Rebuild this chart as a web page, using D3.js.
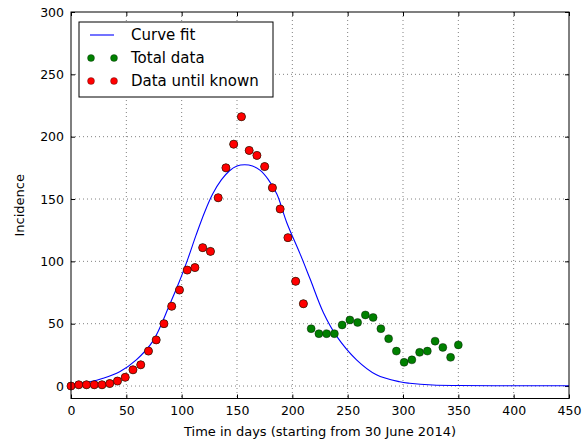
<!DOCTYPE html>
<html>
<head>
<meta charset="utf-8">
<script src="https://cdn.jsdelivr.net/npm/d3@7"></script>
<style>
  body { margin: 0; background: #fff; }
  #svg-container { width: 587px; height: 444px; }
  text { font-family: "DejaVu Sans", sans-serif; fill: #000; }
</style>
</head>
<body>
<div id="svg-container"></div>
<script>
// weekly observations (days since 30 June 2014)
var knownDays = [0, 7, 14, 21, 28, 35, 42, 49, 56, 63, 70, 77, 84, 91, 98, 105, 112, 119, 126, 133,
                 140, 147, 154, 161, 168, 175, 182, 189, 196, 203, 210];
var knownCases = [0, 1, 1, 1, 1, 2, 4, 7, 13, 17, 28, 37, 50, 64, 77, 93, 95, 111, 108, 151,
                  175, 194, 216, 189, 185, 176, 159, 142, 119, 84, 66];

var laterDays = [217, 224, 231, 238, 245, 252, 259, 266, 273, 280, 287, 294, 301, 308, 315, 322,
                 329, 336, 343, 350];
var laterCases = [46, 42, 42, 42, 49, 53, 51, 57, 55, 46, 38, 28, 19, 21, 27, 28, 36, 31, 23, 33];

// fitted curve
var fitDays = [0, 8, 17, 29, 44, 59, 74, 89, 98, 106, 113, 121, 128, 136, 143, 150, 157, 164, 171,
               178, 186, 195, 207, 216, 228, 240, 258, 276, 297, 306, 327, 350, 400, 450];
var fitCases = [1.2, 2.2, 3.4, 6.2, 11.5, 21, 36, 65, 84, 103, 121, 140, 154, 165.5, 172.5, 176.5, 177.5, 176.5, 173,
                166, 154, 131, 106, 86, 59, 40, 21, 9, 3.4, 2.2, 0.8, 0.4, 0.2, 0.2];

var xTicks = [0, 50, 100, 150, 200, 250, 300, 350, 400, 450];
var yTicks = [0, 50, 100, 150, 200, 250, 300];

var width = 587, height = 444;
var margin = { top: 12, right: 18, bottom: 45.5, left: 71 };
var w = width - margin.left - margin.right;
var h = height - margin.top - margin.bottom;

var svg = d3.select("#svg-container").append("svg")
            .attr("width", width).attr("height", height);
var g = svg.append("g").attr("transform", "translate(" + margin.left + "," + margin.top + ")");

var scaleX = d3.scaleLinear().domain([0, 450]).range([0, w]);
var scaleY = d3.scaleLinear().domain([-10, 300]).range([h, 0]);

// dotted grid
g.append("g").selectAll("line").data(xTicks.slice(1, -1)).enter().append("line")
  .attr("x1", function(d) { return scaleX(d); }).attr("x2", function(d) { return scaleX(d); })
  .attr("y1", 0).attr("y2", h)
  .attr("stroke", "#000").attr("stroke-width", 0.5).attr("stroke-dasharray", "1,3");
g.append("g").selectAll("line").data(yTicks.slice(0, -1)).enter().append("line")
  .attr("y1", function(d) { return scaleY(d); }).attr("y2", function(d) { return scaleY(d); })
  .attr("x1", 0).attr("x2", w)
  .attr("stroke", "#000").attr("stroke-width", 0.5).attr("stroke-dasharray", "1,3");

// axes: ticks point inward, on all four sides
function styleAxis(sel) {
  sel.select(".domain").remove();
  sel.selectAll(".tick line").attr("stroke", "#000");
  sel.selectAll(".tick text").style("font-size", "12.5px").style("font-family", "DejaVu Sans");
}
g.append("g").attr("transform", "translate(0," + h + ")")
  .call(d3.axisBottom(scaleX).tickValues(xTicks).tickSize(-4).tickPadding(8))
  .call(styleAxis);
g.append("g")
  .call(d3.axisLeft(scaleY).tickValues(yTicks).tickSize(-4).tickPadding(7))
  .call(styleAxis);
g.append("g")
  .call(d3.axisTop(scaleX).tickValues(xTicks).tickSize(-4).tickFormat(""))
  .call(styleAxis);
g.append("g").attr("transform", "translate(" + w + ",0)")
  .call(d3.axisRight(scaleY).tickValues(yTicks).tickSize(-4).tickFormat(""))
  .call(styleAxis);

// fit curve
var fitLine = d3.line()
  .x(function(d, i) { return scaleX(fitDays[i]); })
  .y(function(d) { return scaleY(d); })
  .curve(d3.curveCatmullRom.alpha(0.5));

g.append("path").datum(fitCases)
  .attr("fill", "none").attr("stroke", "#0000ff").attr("stroke-width", 1.1)
  .attr("d", fitLine);

// total data (green), drawn under the known data
var totalDays = knownDays.concat(laterDays);
var totalCases = knownCases.concat(laterCases);
g.append("g").selectAll("circle").data(totalCases).enter().append("circle")
  .attr("cx", function(d, i) { return scaleX(totalDays[i]); })
  .attr("cy", function(d) { return scaleY(d); })
  .attr("r", 4).attr("fill", "#008000").attr("stroke", "#000").attr("stroke-width", 0.4);

g.append("g").selectAll("circle").data(knownCases).enter().append("circle")
  .attr("cx", function(d, i) { return scaleX(knownDays[i]); })
  .attr("cy", function(d) { return scaleY(d); })
  .attr("r", 4).attr("fill", "#ff0000").attr("stroke", "#000").attr("stroke-width", 0.4);

// frame
g.append("rect").attr("width", w).attr("height", h)
  .attr("fill", "none").attr("stroke", "#000").attr("stroke-width", 1);

// legend
var legend = g.append("g").attr("transform", "translate(8,10)");
legend.append("rect").attr("width", 194).attr("height", 75)
  .attr("fill", "#fff").attr("stroke", "#000").attr("stroke-width", 1);
legend.append("line").attr("x1", 11).attr("x2", 35).attr("y1", 13).attr("y2", 13)
  .attr("stroke", "#0000ff").attr("stroke-width", 1.1);
[["#008000", 36], ["#ff0000", 59]].forEach(function(e) {
  [12, 35].forEach(function(x) {
    legend.append("circle").attr("cx", x).attr("cy", e[1]).attr("r", 3.5)
      .attr("fill", e[0]).attr("stroke", "#000").attr("stroke-width", 0.3);
  });
});
var labels = ["Curve fit", "Total data", "Data until known"];
legend.selectAll("text.lab").data(labels).enter().append("text")
  .attr("class", "lab")
  .attr("x", 52).attr("y", function(d, i) { return 13 + i * 23; })
  .attr("dy", "0.35em")
  .style("font-size", "15px")
  .text(function(d) { return d; });

// axis labels
svg.append("text")
  .attr("transform", "translate(24," + (margin.top + h / 2) + ") rotate(-90)")
  .attr("text-anchor", "middle")
  .style("font-size", "13px")
  .text("Incidence");
svg.append("text")
  .attr("x", margin.left + w / 2).attr("y", 436)
  .attr("text-anchor", "middle")
  .style("font-size", "13px")
  .text("Time in days (starting from 30 June 2014)");
</script>
</body>
</html>
